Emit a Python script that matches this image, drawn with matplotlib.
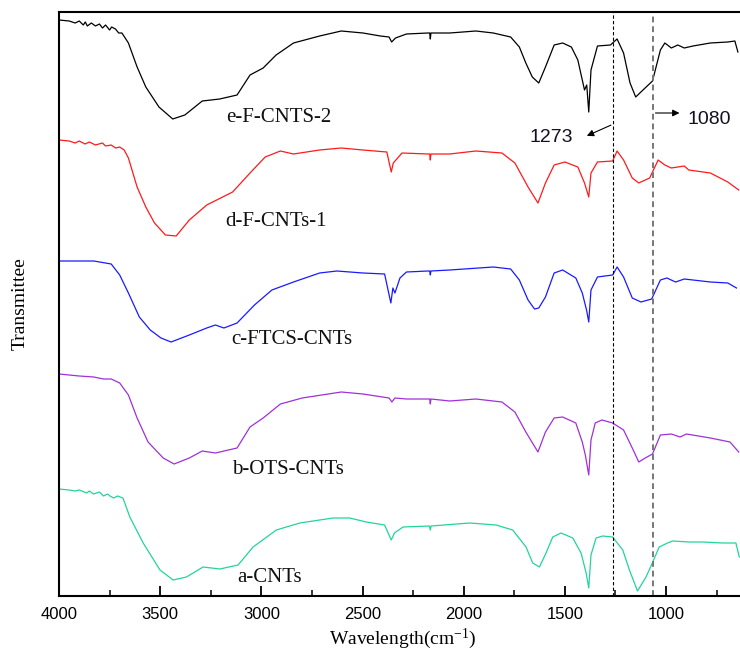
import numpy as np
import matplotlib
matplotlib.use("Agg")
import matplotlib.pyplot as plt
from matplotlib.ticker import MultipleLocator

plt.rcParams["mathtext.fontset"] = "custom"
plt.rcParams["mathtext.rm"] = "Liberation Serif"
plt.rcParams["mathtext.it"] = "Liberation Serif:italic"
plt.rcParams["mathtext.default"] = "rm"

# ---------------- data (wavenumber cm-1, transmittance a.u., stacked) ----------------
e_wn = [4000, 3950, 3920, 3900, 3880, 3870, 3860, 3840, 3820, 3800, 3785, 3770, 3750, 3740, 3721, 3705, 3689, 3657,
        3614, 3571, 3506, 3438, 3378, 3292, 3206, 3120, 3056, 2991, 2927, 2841, 2712, 2605, 2498, 2412,
        2369, 2356, 2337, 2283, 2176, 2168, 2165, 2162, 2069, 1940, 1854, 1768, 1725, 1693, 1661, 1629,
        1596, 1553, 1511, 1468, 1436, 1403, 1392, 1382, 1371, 1339, 1275, 1242, 1210, 1178, 1150, 1114,
        1067, 1028, 1006, 974, 942, 910, 867, 781, 695, 660, 645]
e_tr = [576, 575, 573, 575, 571, 574, 570, 573, 570, 572, 568, 571, 566, 569, 567, 563, 563, 553,
        529, 509, 489, 477, 481, 495, 497, 501, 521, 528, 541, 553, 560, 565, 563, 560,
        559, 554, 558, 562, 563, 563, 557, 563, 563, 565, 563, 559, 549, 533, 519, 513,
        529, 551, 553, 549, 536, 506, 511, 484, 526, 550, 551, 557, 543, 513, 499, 506,
        515, 546, 553, 548, 551, 548, 550, 553, 554, 555, 544]

d_wn = [4000, 3950, 3920, 3900, 3871, 3850, 3820, 3785, 3770, 3742, 3720, 3700, 3678, 3657, 3614, 3571, 3528,
        3474, 3421, 3356, 3270, 3142, 3056, 2981, 2906, 2841, 2712, 2605, 2498, 2380, 2358, 2348, 2305,
        2176, 2168, 2165, 2162, 2069, 1940, 1811, 1747, 1682, 1633, 1596, 1553, 1500, 1436, 1403, 1382,
        1371, 1339, 1264, 1242, 1210, 1167, 1135, 1081, 1039, 1006, 974, 942, 910, 888, 781, 695, 641]
d_tr = [456, 455, 453, 455, 452, 454, 451, 453, 450, 451, 448, 449, 446, 438, 409, 389, 373,
        361, 360, 376, 391, 404, 423, 439, 445, 442, 446, 448, 446, 444, 424, 433, 443,
        442, 442, 436, 442, 442, 445, 443, 433, 409, 393, 413, 431, 434, 429, 413, 399,
        423, 434, 435, 445, 436, 418, 413, 418, 436, 431, 428, 429, 430, 426, 423, 414, 406]

c_wn = [4000, 3828, 3742, 3700, 3657, 3603, 3549, 3496, 3446, 3356, 3270, 3227, 3185, 3120, 3034,
        2948, 2841, 2712, 2627, 2498, 2391, 2360, 2350, 2340, 2315, 2283, 2176, 2168, 2165, 2162,
        2069, 1854, 1768, 1725, 1682, 1650, 1629, 1596, 1553, 1511, 1446, 1414, 1393, 1382, 1371,
        1339, 1264, 1242, 1210, 1167, 1124, 1071, 1028, 996, 953, 910, 781, 695, 652]
c_tr = [335, 335, 332, 321, 303, 279, 266, 258, 254, 261, 268, 271, 268, 273, 291,
        306, 314, 323, 325, 323, 322, 293, 308, 303, 318, 324, 325, 325, 321, 325,
        326, 329, 327, 316, 296, 287, 288, 299, 323, 326, 318, 303, 286, 274, 306,
        319, 321, 329, 319, 298, 294, 297, 316, 318, 314, 317, 314, 313, 308]

b_wn = [4000, 3900, 3828, 3780, 3742, 3700, 3657, 3614, 3560, 3485, 3431, 3356, 3292, 3227, 3120,
        3056, 2991, 2906, 2798, 2605, 2498, 2369, 2355, 2340, 2283, 2168, 2165, 2162, 2069, 1940,
        1811, 1747, 1693, 1633, 1596, 1553, 1511, 1446, 1414, 1399, 1382, 1371, 1350, 1317, 1264,
        1210, 1167, 1135, 1103, 1067, 1028, 974, 931, 899, 781, 684, 641]
b_tr = [222, 220, 219, 217, 217, 213, 201, 178, 154, 138, 132, 138, 145, 143, 148,
        169, 178, 192, 198, 204, 202, 198, 194, 198, 197, 197, 192, 197, 195, 197,
        194, 184, 164, 144, 164, 178, 179, 173, 154, 141, 121, 156, 173, 176, 173,
        166, 148, 134, 138, 142, 161, 162, 159, 162, 158, 154, 144]

a_wn = [4000, 3950, 3920, 3900, 3863, 3850, 3830, 3800, 3780, 3760, 3748, 3730, 3710, 3684, 3650, 3584,
        3501, 3436, 3370, 3288, 3205, 3115, 3041, 2926, 2810, 2646, 2564, 2481, 2391, 2358, 2342,
        2300, 2169, 2165, 2161, 1971, 1840, 1758, 1692, 1659, 1626, 1593, 1560, 1519, 1461, 1420,
        1395, 1382, 1371, 1346, 1313, 1264, 1214, 1181, 1141, 1099, 1070, 1034, 993, 968, 885,
        820, 721, 655, 638]
a_tr = [107, 106, 105, 106, 103, 105, 102, 104, 100, 102, 100, 98, 100, 98, 79, 53,
        26, 16, 19, 29, 27, 31, 49, 66, 73, 78, 78, 74, 71, 56, 63,
        69, 70, 66, 70, 73, 71, 66, 49, 33, 29, 43, 59, 63, 58, 43,
        23, 8, 41, 58, 60, 59, 46, 26, 5, 19, 32, 49, 53, 55, 54,
        54, 53, 53, 39]

series_names = ["e-F-CNTS-2", "d-F-CNTs-1", "c-FTCS-CNTs", "b-OTS-CNTs", "a-CNTs"]
series_colors = ["#000000", "#ff1a1a", "#1a1aff", "#a030d8", "#22d49c"]
label_wn = [3176, 3176, 3151, 3146, 3121]
label_tr = [478, 374, 256, 127, 19]

xticks = [4000, 3500, 3000, 2500, 2000, 1500, 1000]
mark_lines = [1260, 1066]
mark_labels = ["1273", "1080"]

# ---------------- figure ----------------
fig = plt.figure(figsize=(7.4, 6.56), dpi=100)
ax = fig.add_axes([59 / 740, 60 / 656, 688 / 740, 584 / 656])

serif = ["Liberation Serif", "DejaVu Serif"]
sans = ["Liberation Sans", "DejaVu Sans"]

all_wn = [e_wn, d_wn, c_wn, b_wn, a_wn]
all_tr = [e_tr, d_tr, c_tr, b_tr, a_tr]
for wn, tr, col in zip(all_wn, all_tr, series_colors):
    ax.plot(wn, tr, color=col, lw=0.9)

for name, xw, yt in zip(series_names, label_wn, label_tr):
    ax.text(xw, yt, name, family=serif, fontsize=15, ha="left", va="center", color="#111111")

# dashed marker lines
ax.axvline(mark_lines[0], color="black", lw=0.8, ls=(0, (3, 2)))
ax.axvline(mark_lines[1], color="#777777", lw=1.4, ls=(0, (3, 2)))

ax.annotate("", xy=(1404, 459), xytext=(mark_lines[0], 472),
            arrowprops=dict(arrowstyle="-|>", color="black", lw=0.8, mutation_scale=10))
ax.text(1569, 458, mark_labels[0], family=sans, fontsize=14, ha="center", va="center", color="#111122")
ax.annotate("", xy=(920, 483), xytext=(mark_lines[1], 483),
            arrowprops=dict(arrowstyle="-|>", color="black", lw=0.8, mutation_scale=10))
ax.text(787, 477, mark_labels[1], family=sans, fontsize=14, ha="center", va="center", color="#111122")

ax.set_xlim(4000, 600)
ax.set_ylim(0, 584)
ax.set_xticks(xticks)
ax.set_xticklabels([str(t) for t in xticks], family=sans, fontsize=12)
ax.xaxis.set_minor_locator(MultipleLocator(250))
ax.tick_params(axis="x", which="major", direction="in", length=7, width=1.3, pad=8)
ax.tick_params(axis="x", which="minor", direction="in", length=4, width=1.1)
ax.set_yticks([])
ax.spines["right"].set_visible(False)
for s in ["left", "bottom", "top"]:
    ax.spines[s].set_linewidth(1.5)

ax.set_xlabel("Wavelength(cm$^{-1}$)", family=serif, fontsize=14, labelpad=3)
ax.set_ylabel("Transmittee", family=serif, fontsize=14, labelpad=22)

fig.savefig("out.png", dpi=100)
